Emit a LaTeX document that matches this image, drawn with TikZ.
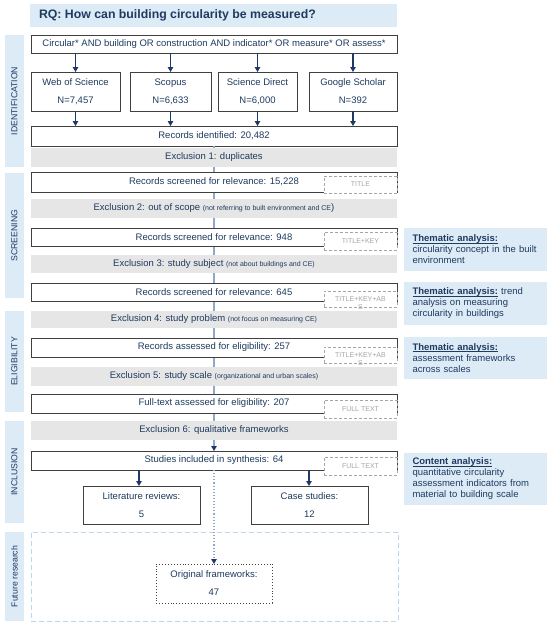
\documentclass[tikz,border=0pt]{standalone}
\usepackage{fontspec}
\setmainfont{Liberation Sans}
\usetikzlibrary{arrows.meta}
\definecolor{txt}{HTML}{1F3B5F}
\definecolor{navy}{HTML}{1F3864}
\definecolor{lblue}{HTML}{DDEBF7}
\definecolor{exgray}{HTML}{E6E6E6}
\definecolor{bord}{HTML}{404040}
\definecolor{cline}{HTML}{8FA9C4}
\definecolor{dgray}{HTML}{A6A6A6}
\definecolor{fblue}{HTML}{BDD7EE}
\newcommand\bx[7]{\node[#6,minimum width={(#3-#1)*1pt},minimum height={(#4-#2)*1pt}] (#5) at ({(#1+#3)/2},{(#2+#4)/2}) {#7};}
\newcommand\sidelab[5]{\node[sidebox,rotate=90,minimum width={(#4-#2)*1pt},minimum height={(#3-#1)*1pt}] (#5) at ({(#1+#3)/2},{(#2+#4)/2}) {};}
\newcommand\fs[2]{\fontsize{#1}{#2}\selectfont}
\newcommand\ulin[1]{{\setbox0\hbox{#1}\rlap{\rule[-1.5pt]{\wd0}{0.6pt}}\box0}}
\begin{document}
\begin{tikzpicture}[x=1pt,y=-1pt,
  every node/.style={inner sep=0pt,outer sep=0pt,text=txt,font=\fs{9.5}{11}},
  rec/.style={draw=bord,line width=1pt,fill=white,align=center},
  excl/.style={fill=exgray,align=center},
  dbbox/.style={draw=bord,line width=1pt,fill=white,align=center,font=\fs{9.5}{18}},
  dashbox/.style={draw=dgray,dash pattern=on 3pt off 2pt,line width=0.7pt,fill=white,text=dgray,font=\fs{7}{8},align=center},
  sidebox/.style={fill=lblue},
  sidetext/.style={rotate=90,text=navy,font=\fs{8.7}{10}},
  thema/.style={fill=lblue,align=left,text width=126pt,inner xsep=8.5pt,font=\fs{9.5}{11}},
  arr/.style={draw=navy,line width=1.1pt,-{Triangle[length=5pt,width=5.5pt]}},
  cl/.style={draw=cline,line width=1.1pt}
]
\useasboundingbox (0,0) rectangle (550,625);

% Future research region
\bx{31}{532}{398}{621}{fut}{draw=fblue,dash pattern=on 5pt off 3pt,line width=0.9pt}{}

% side labels
\sidelab{5}{35}{24}{167}{sid1}
\sidelab{5}{173}{24}{298}{sid2}
\sidelab{5}{311}{24}{412}{sid3}
\sidelab{5}{421}{24}{523}{sid4}
\sidelab{5}{532}{24}{621}{sid5}
\node[sidetext] at (sid1) {IDENTIFICATION};
\node[sidetext] at (sid2) {SCREENING};
\node[sidetext] at (sid3) {ELIGIBILITY};
\node[sidetext] at (sid4) {INCLUSION};
\node[sidetext] at (sid5) {Future research};

% RQ
\bx{30}{4}{397}{27}{rq}{fill=lblue}{}
\node[anchor=west,font=\bfseries\fs{12.3}{14}] (rqt) at (39,15.5) {RQ: How can building circularity be measured?};

% search string
\bx{31}{35}{397}{53}{search}{rec,font=\fs{9.5}{11}}{Circular* AND building OR construction AND indicator* OR measure* OR assess*}

% databases
\bx{31}{72}{120}{111}{wos}{dbbox}{Web of Science\\N=7,457}
\bx{130}{72}{211}{111}{sco}{dbbox}{Scopus\\N=6,633}
\bx{218}{72}{297}{111}{sd}{dbbox}{Science Direct\\N=6,000}
\bx{309}{72}{397}{111}{gs}{dbbox}{Google Scholar\\N=392}

\foreach \d in {wos,sco,sd,gs}{
  \draw[arr] (search.south -| \d.north) -- (\d.north);
}

% records identified
\bx{31}{126}{397}{146}{recid}{rec}{Records identified: 20,482}
\foreach \d in {wos,sco,sd,gs}{
  \draw[arr] (\d.south) -- (\d.south |- recid.north);
}

% central flow line (drawn before the stage boxes)
\coordinate (s64top) at (214,451);
\draw[cl,-{Triangle[length=5pt,width=5.5pt,color=navy]}] (recid.south) -- (s64top);

% stages
\bx{31}{148}{397}{167}{ex1}{excl}{Exclusion 1: duplicates}
\bx{31}{172}{397}{192}{r1}{rec}{Records screened for relevance: 15,228}
\bx{324}{176}{397}{193}{d1}{dashbox}{TITLE}
\bx{31}{199}{397}{218}{ex2}{excl}{Exclusion 2: out of scope {\fs{7}{8}(not referring to built environment and CE})}
\bx{31}{228}{397}{246}{r2}{rec}{Records screened for relevance: 948}
\bx{324}{232}{397}{250}{d2}{dashbox}{TITLE+KEY}
\bx{31}{255}{397}{273}{ex3}{excl}{Exclusion 3: study subject {\fs{7}{8}(not about buildings and CE)}}
\bx{31}{283}{397}{301}{r3}{rec}{Records screened for relevance: 645}
\bx{324}{291}{397}{307}{d3}{dashbox}{}
\node[text=dgray,font=\fs{7}{8}] at (d3.center) {TITLE+KEY+AB};
\node[text=dgray,font=\fs{7}{8}] at ([yshift=-0.5pt]d3.south) {S};
\bx{31}{311}{397}{328}{ex4}{excl}{Exclusion 4: study problem {\fs{7}{8}(not focus on measuring CE)}}
\bx{31}{338}{397}{357}{r4}{rec}{Records assessed for eligibility: 257}
\bx{324}{347}{397}{363}{d4}{dashbox}{}
\node[text=dgray,font=\fs{7}{8}] at (d4.center) {TITLE+KEY+AB};
\node[text=dgray,font=\fs{7}{8}] at ([yshift=-0.5pt]d4.south) {S};
\bx{31}{367}{397}{386}{ex5}{excl}{Exclusion 5: study scale {\fs{7}{8}(organizational and urban scales)}}
\bx{31}{394}{397}{413}{r5}{rec}{Full-text assessed for eligibility: 207}
\bx{324}{400}{397}{418}{d5}{dashbox}{FULL TEXT}
\bx{31}{421}{397}{440}{ex6}{excl}{Exclusion 6: qualitative frameworks}
\bx{31}{451}{397}{470}{s64}{rec}{Studies included in synthesis: 64}
\bx{324}{457}{397}{475}{d6}{dashbox}{FULL TEXT}

% outcome boxes
\bx{83}{486}{200}{524}{lit}{dbbox}{Literature reviews:\\5}
\bx{251}{486}{368}{524}{cas}{dbbox}{Case studies:\\12}
\bx{156}{564}{272}{603}{orig}{draw=bord,dotted,line width=0.9pt,fill=white,align=center,font=\fs{9.5}{18}}{Original frameworks:\\47}

\draw[arr] (s64.south -| 139,0) -- (139,486);
\draw[arr] (s64.south -| 309,0) -- (309,486);
\draw[cl,dotted,-{Triangle[length=5pt,width=5.5pt,color=navy]}] (s64.south) -- (s64.south |- orig.north);

% thematic boxes
\bx{404}{228}{547}{271}{t1}{thema}{\ulin{\textbf{Thematic analysis:}}\\circularity concept in the built\\environment}
\bx{404}{282}{547}{325}{t2}{thema}{\ulin{\textbf{Thematic analysis:}} trend\\analysis on measuring\\circularity in buildings}
\bx{404}{337}{547}{379}{t3}{thema}{\ulin{\textbf{Thematic analysis:}}\\assessment frameworks\\across scales}
\bx{404}{453}{547}{505}{t4}{thema}{\ulin{\textbf{Content analysis:}}\\quantitative circularity\\assessment indicators from\\material to building scale}
\end{tikzpicture}
\end{document}
